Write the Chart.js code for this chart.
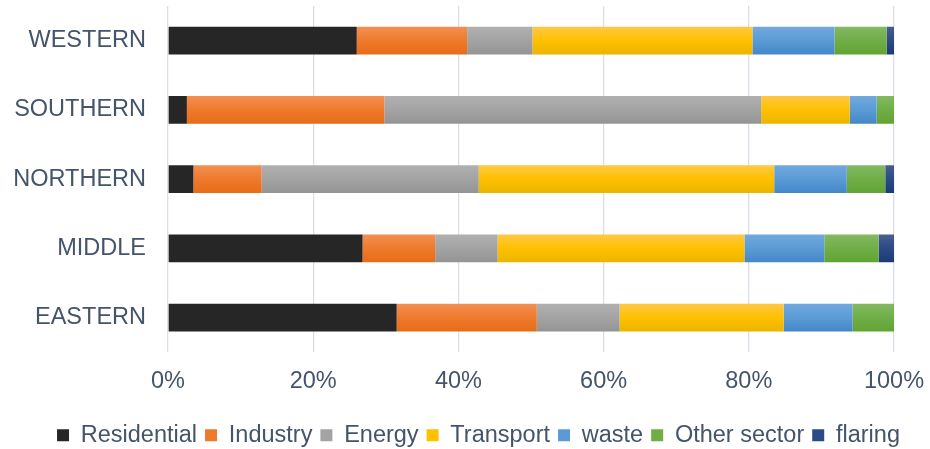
<!DOCTYPE html>
<html>
<head>
<meta charset="utf-8">
<script src="https://cdn.jsdelivr.net/npm/chart.js@4/dist/chart.umd.min.js"></script>
<style>
  html, body { margin: 0; padding: 0; background: #ffffff; }
  #wrap { width: 930px; height: 449px; position: relative; }
</style>
</head>
<body>
<div id="wrap"><canvas id="c"></canvas></div>
<script>
// Regions, top to bottom
const regions = ['WESTERN', 'SOUTHERN', 'NORTHERN', 'MIDDLE', 'EASTERN'];

// Share of emissions by sector (%), one value per region
const residential = [26.0, 2.6, 3.5, 26.8, 31.5];
const industry    = [15.2, 27.2, 9.4, 10.0, 19.3];
const energy      = [9.0, 51.9, 29.9, 8.6, 11.4];
const transport   = [30.3, 12.2, 40.7, 34.0, 22.6];
const waste       = [11.3, 3.7, 10.0, 11.0, 9.5];
const otherSector = [7.2, 2.4, 5.3, 7.5, 5.7];
const flaring     = [1.0, 0.0, 1.2, 2.1, 0.0];

const xTicks = [0, 20, 40, 60, 80, 100];

// [top, middle, bottom] shades for each sector's bar fill
const shades = {
  Residential: ['#262626', '#262626', '#262626'],
  Industry: ['#f38f52', '#ee7a2c', '#e66c18'],
  Energy: ['#b0b0b0', '#a3a3a3', '#949494'],
  Transport: ['#ffc844', '#ffc000', '#eab500'],
  waste: ['#72a9df', '#5b9bd5', '#4487c8'],
  'Other sector': ['#82ba62', '#70ad47', '#61a433'],
  flaring: ['#4a5d93', '#2c4a85', '#1d3a77']
};

const BAR_FRACTION = 0.4;

// Vertical gradient across the height of each horizontal bar
function barFill(ctx) {
  const s = shades[ctx.dataset.label];
  const chart = ctx.chart;
  const yScale = chart.scales.y;
  if (!chart.chartArea || !yScale || ctx.dataIndex === undefined) return s[1];
  const center = yScale.getPixelForValue(ctx.dataIndex);
  const half = (yScale.height / regions.length) * BAR_FRACTION / 2;
  if (!isFinite(center) || !isFinite(half)) return s[1];
  const g = chart.ctx.createLinearGradient(0, center - half, 0, center + half);
  g.addColorStop(0, s[0]);
  g.addColorStop(0.5, s[1]);
  g.addColorStop(1, s[2]);
  return g;
}

const series = [
  ['Residential', residential],
  ['Industry', industry],
  ['Energy', energy],
  ['Transport', transport],
  ['waste', waste],
  ['Other sector', otherSector],
  ['flaring', flaring]
];

const TEXT = '#44546a';
const FONT = 'Liberation Sans, Arial, sans-serif';

// Let the legend row span the full canvas width, nudged a little right
const legendSpan = {
  id: 'legendSpan',
  afterLayout(chart) {
    const lg = chart.legend;
    if (!lg) return;
    lg.left = 27;
    lg.right = chart.width;
  }
};

new Chart(document.getElementById('c'), {
  type: 'bar',
  plugins: [legendSpan],
  data: {
    labels: regions,
    datasets: series.map(([label, values]) => ({
      label,
      data: values,
      backgroundColor: barFill,
      borderWidth: 0,
      categoryPercentage: 1,
      barPercentage: BAR_FRACTION
    }))
  },
  options: {
    indexAxis: 'y',
    responsive: true,
    maintainAspectRatio: false,
    animation: false,
    layout: { padding: { top: 6, right: 36, left: 0, bottom: -8 } },
    scales: {
      x: {
        stacked: true,
        min: 0,
        max: 100,
        afterBuildTicks(scale) {
          scale.ticks = xTicks.map(v => ({ value: v }));
        },
        afterFit(scale) {
          scale.paddingLeft = 0;
          scale.paddingRight = 0;
          scale.height += 5;
        },
        ticks: {
          color: TEXT,
          font: { family: FONT, size: 23.5 },
          padding: 15,
          callback: v => v + '%'
        },
        grid: { color: '#d9dfe6', lineWidth: 1.3, drawTicks: false },
        border: { display: false }
      },
      y: {
        stacked: true,
        afterFit(scale) {
          scale.width = 168;
          scale.paddingTop = 0;
          scale.paddingBottom = 0;
        },
        ticks: {
          color: TEXT,
          font: { family: FONT, size: 23.5 },
          padding: 22
        },
        grid: { display: false, drawTicks: false },
        border: { display: false }
      }
    },
    plugins: {
      legend: {
        position: 'bottom',
        labels: {
          color: TEXT,
          font: { family: FONT, size: 23.5 },
          boxWidth: 12,
          boxHeight: 12,
          padding: 8,
          generateLabels(chart) {
            return chart.data.datasets.map((ds, i) => ({
              text: ds.label,
              fillStyle: shades[ds.label][1],
              strokeStyle: shades[ds.label][1],
              lineWidth: 0,
              hidden: false,
              datasetIndex: i,
              fontColor: TEXT
            }));
          }
        }
      },
      tooltip: { enabled: false }
    }
  }
});
</script>
</body>
</html>
